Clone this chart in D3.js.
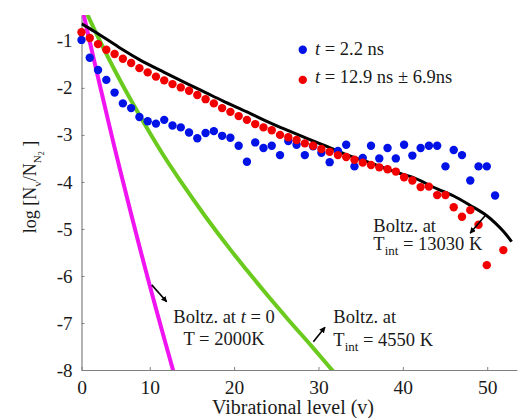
<!DOCTYPE html>
<html><head><meta charset="utf-8">
<script src="https://cdn.jsdelivr.net/npm/d3@7"></script>
<style>
body{margin:0;background:#fff}
svg{display:block;font-family:"Liberation Serif","Times New Roman",serif}
</style>
</head><body>
<svg id="chart" width="518" height="418"></svg>
<script>
// ---------- data (vibrational level index = array position) ----------
const blueT22 = [-0.98,-1.36,-1.62,-1.83,-2.10,-2.33,-2.43,-2.62,-2.71,-2.76,
  -2.68,-2.80,-2.84,-2.95,-3.07,-2.96,-2.92,-3.02,-3.06,-3.23,
  -3.57,-3.16,-3.28,-3.23,-3.43,-3.13,-3.21,-3.43,-3.24,-3.38,
  -3.58,-3.34,-3.21,-3.67,-3.49,-3.23,-3.50,-3.28,-3.50,-3.21,
  -3.44,-3.28,-3.23,-3.23,-3.67,-3.32,-3.43,-3.97,-3.67,-3.67,
  -4.29];
const redT129 = [-0.815,-0.94,-1.07,-1.19,-1.28,-1.38,-1.47,-1.58,-1.67,-1.76,
  -1.84,-1.92,-1.99,-2.06,-2.15,-2.24,-2.33,-2.43,-2.51,-2.60,
  -2.68,-2.77,-2.84,-2.90,-3.00,-3.05,-3.11,-3.18,-3.23,-3.30,
  -3.36,-3.43,-3.47,-3.53,-3.59,-3.64,-3.69,-3.73,-3.78,-3.90,
  -3.97,-4.11,-4.10,-4.28,-4.28,-4.54,-4.74,-4.60,-4.91,-5.77,
  null,-5.45];
const black13030Levels = [0,1,2,3,5,7,10,13,15,17,20,23,25,28,30,32,35,38,40,43,45,47,49,50,51,52];
const black13030Values = [-0.64,-0.74,-0.85,-0.96,-1.19,-1.40,-1.67,-1.93,-2.10,-2.27,-2.51,-2.76,-2.91,-3.13,-3.27,-3.42,-3.60,-3.79,-3.90,-4.15,-4.30,-4.50,-4.72,-4.87,-5.05,-5.27];
const pink2000Levels = [0,1,2,3,4,5,6,7,8,9,10,11,12];
const pink2000Values = [-0.24,-1.02,-1.78,-2.53,-3.27,-3.98,-4.68,-5.37,-6.04,-6.69,-7.33,-7.96,-8.56];
const green4550Levels = [0,2,4,6,8,10,12,15,18,20,22,25,28,30,32];
const green4550Values = [-0.17,-0.92,-1.62,-2.27,-2.88,-3.46,-3.99,-4.74,-5.44,-5.88,-6.31,-6.93,-7.53,-7.94,-8.35];
const xTickLabels = [0,10,20,30,40,50];
const yTickValues = [-8,-7,-6,-5,-4,-3,-2,-1];

// ---------- scales ----------
const svg = d3.select("#chart");
const x = d3.scaleLinear().domain([0, 52.65]).range([81.5, 517]);
const y = d3.scaleLinear().domain([-8, -0.45]).range([370, 15]);
// tick labels of the original axis are not aligned with the level index
const xAxisScale = d3.scaleLinear().domain([0, 10, 50, 53.56])
  .range([x(0), x(8.25), x(49.05), x(52.65)]);

svg.append("defs").append("clipPath").attr("id","plot")
  .append("rect").attr("x", x(0)).attr("y", y(-0.45))
  .attr("width", x(52.65)-x(0)).attr("height", y(-8)-y(-0.45));
svg.select("defs").append("marker").attr("id","arr")
  .attr("viewBox","0 0 10 10").attr("refX",9).attr("refY",5)
  .attr("markerWidth",6).attr("markerHeight",6).attr("markerUnits","userSpaceOnUse")
  .attr("orient","auto")
  .append("path").attr("d","M0,0L10,5L0,10Z").attr("fill","#000");

// ---------- axes ----------
const axisColor = "#808080";
const gx = svg.append("g").attr("transform", `translate(0,${y(-8)})`)
  .call(d3.axisBottom(xAxisScale).tickValues(xTickLabels)
    .tickSizeInner(-3).tickSizeOuter(0).tickPadding(10).tickFormat(d => String(d)));
const gy = svg.append("g").attr("transform", `translate(${x(0)},0)`)
  .call(d3.axisLeft(y).tickValues(yTickValues)
    .tickSizeInner(-3).tickSizeOuter(0).tickPadding(9).tickFormat(d => String(d)));
[gx, gy].forEach(g => {
  g.select(".domain").attr("stroke", axisColor).attr("stroke-width", 1.2);
  g.selectAll(".tick line").attr("stroke", axisColor);
  g.selectAll(".tick text").attr("fill", "#1a1a1a")
    .style("font-family", '"Liberation Serif", serif');
});
gx.selectAll(".tick text").style("font-size", "19.5px");
gy.selectAll(".tick text").style("font-size", "19px");

svg.append("text").attr("x", 293).attr("y", 414).attr("text-anchor","middle")
  .style("font-size","20px").attr("fill","#1a1a1a").text("Vibrational level (v)");

const yt = svg.append("text").attr("transform","translate(36,187) rotate(-90)")
  .attr("text-anchor","middle").style("font-size","18px").attr("fill","#1a1a1a");
yt.append("tspan").text("log [N");
yt.append("tspan").attr("dy",5).style("font-size","11px").text("v");
yt.append("tspan").attr("dy",-5).text("/N");
yt.append("tspan").attr("dy",5).style("font-size","11px").text("N");
yt.append("tspan").attr("dy",3).style("font-size","8px").text("2");
yt.append("tspan").attr("dy",-8).text(" ]");

// ---------- curves ----------
const line = d3.line().x(d => x(d[0])).y(d => y(d[1])).curve(d3.curveMonotoneX);
const curves = svg.append("g").attr("clip-path","url(#plot)");
curves.append("path").datum(d3.zip(pink2000Levels, pink2000Values))
  .attr("d", line).attr("fill","none").attr("stroke","#f014f0").attr("stroke-width",4);
curves.append("path").datum(d3.zip(green4550Levels, green4550Values))
  .attr("d", line).attr("fill","none").attr("stroke","#6acb1e").attr("stroke-width",4);

// ---------- points ----------
const pts = svg.append("g");
pts.selectAll("circle.b").data(blueT22.map((v,i)=>[i,v]).filter(d=>d[1]!==null))
  .join("circle").attr("class","b").attr("cx",d=>x(d[0])).attr("cy",d=>y(d[1]))
  .attr("r",4.2).attr("fill","#0012e6");
pts.selectAll("circle.r").data(redT129.map((v,i)=>[i,v]).filter(d=>d[1]!==null))
  .join("circle").attr("class","r").attr("cx",d=>x(d[0])).attr("cy",d=>y(d[1]))
  .attr("r",4.2).attr("fill","#f20000");

curves.append("path").datum(d3.zip(black13030Levels, black13030Values))
  .attr("d", line).attr("fill","none").attr("stroke","#000").attr("stroke-width",3);

// ---------- legend ----------
const legend = [
  {c:"#0012e6", dot:[26.75,-1.19], txt:[28.23,-1.30], rest:" = 2.2 ns"},
  {c:"#f20000", dot:[26.75,-1.83], txt:[28.23,-1.90], rest:" = 12.9 ns \u00B1 6.9ns"}
];
legend.forEach(l => {
  svg.append("circle").attr("cx",x(l.dot[0])).attr("cy",y(l.dot[1])).attr("r",4.2).attr("fill",l.c);
  const t = svg.append("text").attr("x",x(l.txt[0])).attr("y",y(l.txt[1]))
    .style("font-size","18.5px").attr("fill","#1a1a1a");
  t.append("tspan").style("font-style","italic").text("t");
  t.append("tspan").text(l.rest);
});

// ---------- annotations ----------
const arrows = [
  [[8.49,-6.19],[10.30,-6.55]],
  [[28.03,-7.40],[29.44,-7.09]],
  [[48.79,-4.72],[46.98,-5.09]]
];
arrows.forEach(a => svg.append("line")
  .attr("x1",x(a[0][0])).attr("y1",y(a[0][1])).attr("x2",x(a[1][0])).attr("y2",y(a[1][1]))
  .attr("stroke","#000").attr("stroke-width",1.6).attr("marker-end","url(#arr)"));

function label(px, py, anchor) {
  return svg.append("text").attr("x",x(px)).attr("y",y(py)).attr("text-anchor",anchor)
    .style("font-size","18.5px").attr("fill","#1a1a1a");
}
const p1 = label(17.23,-7.00,"middle");
p1.append("tspan").text("Boltz. at ");
p1.append("tspan").style("font-style","italic").text("t");
p1.append("tspan").text(" = 0");
label(17.23,-7.47,"middle").text("T = 2000K");

label(30.45,-7.00,"start").text("Boltz. at");
const g2 = label(30.45,-7.49,"start");
g2.append("tspan").text("T");
g2.append("tspan").attr("dy",5).style("font-size","13px").text("int");
g2.append("tspan").attr("dy",-5).text(" = 4550 K");

label(35.28,-5.06,"start").text("Boltz. at");
const b2 = label(35.28,-5.45,"start");
b2.append("tspan").text("T");
b2.append("tspan").attr("dy",5).style("font-size","13px").text("int");
b2.append("tspan").attr("dy",-5).text(" = 13030 K");
</script>
</body></html>
